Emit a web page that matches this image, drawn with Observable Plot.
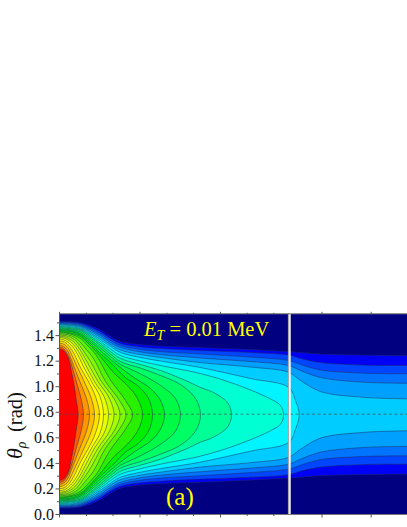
<!DOCTYPE html>
<html>
<head>
<meta charset="utf-8">
<style>html,body{margin:0;padding:0;background:#fff}svg{display:block}</style>
<script src="https://cdn.jsdelivr.net/npm/d3@7"></script>
<script src="https://cdn.jsdelivr.net/npm/@observablehq/plot@0.6"></script>
</head>
<body>
<div id="chart"></div>
<script>
// Tick positions and labels
const thetaMajor = [0, 0.2, 0.4, 0.6, 0.8, 1.0, 1.2, 1.4];
const thetaMinor = [0.1, 0.3, 0.5, 0.7, 0.9, 1.1, 1.3, 1.5];
const xMajor = [0, 80.5, 161, 262.5, 311.7];
const xMinor = [27, 53.5, 107.5, 134, 187.7, 214.3];
const thetaTop = 1.5708, thetaMid = 0.785, contourMid = 0.78;
const xMax = 348, xBreak = 229;

// Contour levels, outermost first: x and theta of the upper half of each curve.
const x01 = [0,11,21,31,41,51,61,81,101,141,191,229,241,261,301,348];
const t01 = [1.512,1.510,1.502,1.479,1.444,1.393,1.354,1.330,1.319,1.307,1.291,1.275,1.268,1.256,1.248,1.244];
const t02 = [1.506,1.504,1.495,1.467,1.428,1.377,1.338,1.311,1.299,1.283,1.268,1.248,1.221,1.189,1.170,1.166];
const t03 = [1.501,1.498,1.487,1.455,1.416,1.362,1.322,1.291,1.275,1.256,1.232,1.205,1.174,1.131,1.107,1.101];
const t04 = [1.495,1.491,1.479,1.444,1.401,1.346,1.307,1.272,1.252,1.225,1.197,1.166,1.127,1.072,1.037,1.027];
const t05 = [1.490,1.485,1.471,1.432,1.385,1.330,1.287,1.252,1.229,1.189,1.154,1.113,1.049,0.962,0.919,0.905];
const x06 = [0,11,21,31,41,51,61,81,101,141,191,229,236,239.7];
const t06 = [1.484,1.479,1.463,1.420,1.369,1.315,1.268,1.229,1.201,1.150,1.064,0.996,0.892,0.78];
const x07 = [0,11,21,31,41,51,61,81,101,141,174,208,221,224];
const t07 = [1.477,1.471,1.455,1.409,1.354,1.295,1.244,1.201,1.166,1.103,1.025,0.916,0.853,0.78];
const x08 = [0,11,21,31,41,51,61,81,101,126,141,154,168,172];
const t08 = [1.471,1.463,1.448,1.397,1.338,1.275,1.221,1.174,1.127,1.049,0.994,0.955,0.876,0.78];
const x09 = [0,11,21,31,41,51,61,81,101,121,136,141];
const t09 = [1.463,1.455,1.440,1.385,1.322,1.256,1.197,1.146,1.088,1.017,0.908,0.78];
const x10 = [0,11,21,31,41,51,61,74,88,104,116,121];
const t10 = [1.455,1.448,1.428,1.369,1.303,1.236,1.174,1.127,1.072,0.994,0.908,0.78];
const x11 = [0,11,21,31,41,51,61,76,91,101,105];
const t11 = [1.448,1.440,1.416,1.354,1.283,1.213,1.150,1.064,0.986,0.892,0.78];
const x12 = [0,11,21,31,41,53,66,79,89,93];
const t12 = [1.440,1.432,1.405,1.338,1.260,1.174,1.072,1.002,0.908,0.78];
const x13 = [0,11,21,31,41,54,68,78,83];
const t13 = [1.432,1.420,1.393,1.322,1.236,1.111,1.009,0.908,0.78];
const x14 = [0,11,21,29,37,50,66,73];
const t14 = [1.424,1.412,1.377,1.315,1.244,1.064,0.892,0.78];
const x15 = [0,11,19,26,34,46,60,66.5];
const t15 = [1.414,1.401,1.362,1.299,1.221,1.041,0.892,0.78];
const x16 = [0,9,17,23,31,42,55,60.5];
const t16 = [1.405,1.393,1.354,1.291,1.197,1.041,0.900,0.78];
const x17 = [0,7,15,21,28.5,38.5,50,54.5];
const t17 = [1.395,1.385,1.346,1.283,1.182,1.041,0.908,0.78];
const x18 = [0,6,13,19,26,35,45,49];
const t18 = [1.385,1.377,1.338,1.275,1.174,1.041,0.916,0.78];
const x19 = [0,6,11,17,24,32,40.5,44];
const t19 = [1.373,1.362,1.330,1.268,1.158,1.041,0.923,0.78];
const x20 = [0,5,10,15,21,29,36,40];
const t20 = [1.358,1.350,1.315,1.252,1.150,1.041,0.923,0.78];
const x21 = [0,5,9,13,19,26,31.5,35];
const t21 = [1.342,1.330,1.299,1.236,1.135,1.017,0.916,0.78];
const x22 = [0,4,8,11,16,22,27,30];
const t22 = [1.326,1.315,1.283,1.229,1.127,1.009,0.908,0.78];
const x23 = [0,4,7,10,14,18,22,24];
const t23 = [1.311,1.299,1.268,1.221,1.119,1.009,0.892,0.78];
const x24 = [0,4,7,9,12,14.5,16.5,18.7];
const t24 = [1.295,1.283,1.252,1.221,1.119,1.017,0.908,0.78];

const levelCurves = [
  [x01,t01],[x01,t02],[x01,t03],[x01,t04],[x01,t05],[x06,t06],[x07,t07],[x08,t08],
  [x09,t09],[x10,t10],[x11,t11],[x12,t12],[x13,t13],[x14,t14],[x15,t15],[x16,t16],
  [x17,t17],[x18,t18],[x19,t19],[x20,t20],[x21,t21],[x22,t22],[x23,t23],[x24,t24]
];
const levelColors = [
  "#0000f5","#0046ff","#0073ff","#00a0ff","#00ccff","#00f4ff","#00ffd2","#00ff96",
  "#00ff64","#00fb46","#00f520","#00ee00","#28f000","#55f500","#80fa00","#a5ff00",
  "#c8ff00","#e8ff00","#ffff00","#ffe100","#ffbe00","#ff9600","#ff5a00","#ff0000"
];

// Closed outline of one level: upper half, then the lower half reflected about the mid line.
function outline([xs, ts]) {
  const upper = xs.map((x, i) => [x, ts[i]]);
  const head = [[-25, ts[0]]];
  const last = xs[xs.length - 1];
  if (ts[ts.length - 1] > contourMid) {
    upper.push([last + 25, ts[ts.length - 1]]);
    const lower = upper.slice().reverse().map(([x, t]) => [x, 2 * contourMid - t]);
    return [...head, ...upper, ...lower, [-25, 2 * contourMid - ts[0]]];
  }
  const lower = upper.slice(0, -1).reverse().map(([x, t]) => [x, 2 * contourMid - t]);
  return [...head, ...upper, ...lower, [-25, 2 * contourMid - ts[0]]];
}

const serif = "'Liberation Serif','Times New Roman',serif";
const lineColor = "#55565c";

const chart = Plot.plot({
  width: 407,
  height: 527,
  marginLeft: 59,
  marginRight: 0,
  marginTop: 313.3,
  marginBottom: 13,
  style: {fontFamily: serif, background: "#fff", overflow: "visible"},
  x: {domain: [0, xMax]},
  y: {domain: [0, thetaTop]},
  marks: [
    Plot.frame({fill: "#000080", stroke: null}),
    ...levelCurves.map((lv, i) => Plot.line(outline(lv), {
      x: d => d[0], y: d => d[1],
      curve: "catmull-rom",
      fill: levelColors[i],
      stroke: "#202a58",
      strokeWidth: 0.7,
      strokeOpacity: 0.7,
      clip: true
    })),
    Plot.ruleY([thetaMid], {stroke: "#44505a", strokeWidth: 0.9, strokeDasharray: "3,2.5", strokeOpacity: 0.75}),
    Plot.ruleX([xBreak], {stroke: "#a8a8a8", strokeWidth: 1.2}),
    Plot.ruleX([xBreak + 1.4], {stroke: "#ffffff", strokeWidth: 1.6}),
    Plot.ruleX([0], {stroke: lineColor, strokeWidth: 1}),
    Plot.ruleY([0, thetaTop], {stroke: "#777", strokeWidth: 1}),
    Plot.axisY({ticks: thetaMajor, tickSize: 3.5, tickPadding: 2, fontSize: 16, tickFormat: d => d.toFixed(1), label: null, stroke: lineColor, color: "#111"}),
    Plot.axisY({ticks: thetaMinor, tickSize: 2, tickFormat: () => "", label: null, stroke: lineColor}),
    Plot.axisX({ticks: xMajor, tickSize: 3.5, tickFormat: () => "", label: null, stroke: lineColor}),
    Plot.axisX({ticks: xMinor, tickSize: 2, tickFormat: () => "", label: null, stroke: lineColor}),
    Plot.axisX({anchor: "top", ticks: xMajor, tickSize: 2.5, tickFormat: () => "", label: null, stroke: lineColor}),
    Plot.axisX({anchor: "top", ticks: xMinor, tickSize: 1.5, tickFormat: () => "", label: null, stroke: lineColor})
  ]
});

const svg = d3.select(chart);

const note = svg.append("text")
  .attr("x", 144).attr("y", 336).attr("text-anchor", "start")
  .attr("fill", "#ffff00").attr("font-family", serif).attr("font-size", 20.5);
note.append("tspan").attr("font-style", "italic").text("E");
note.append("tspan").attr("font-style", "italic").attr("font-size", 14).attr("dy", 4).text("T");
note.append("tspan").attr("dy", -4).text(" = 0.01 MeV");

svg.append("text")
  .attr("x", 166).attr("y", 505).attr("text-anchor", "start")
  .attr("fill", "#ffff00").attr("font-family", serif).attr("font-size", 25)
  .text("(a)");

const ylab = svg.append("text")
  .attr("transform", "translate(21.5,459) rotate(-90)").attr("text-anchor", "start")
  .attr("fill", "#111").attr("font-family", serif).attr("font-size", 22);
ylab.append("tspan").attr("font-style", "italic").text("θ");
ylab.append("tspan").attr("font-style", "italic").attr("font-size", 14).attr("dy", 4).text("ρ");

svg.append("text")
  .attr("transform", "translate(21.5,432) rotate(-90)").attr("text-anchor", "start")
  .attr("fill", "#111").attr("font-family", serif).attr("font-size", 20.5)
  .text("(rad)");

document.getElementById("chart").appendChild(chart);
</script>
</body>
</html>
